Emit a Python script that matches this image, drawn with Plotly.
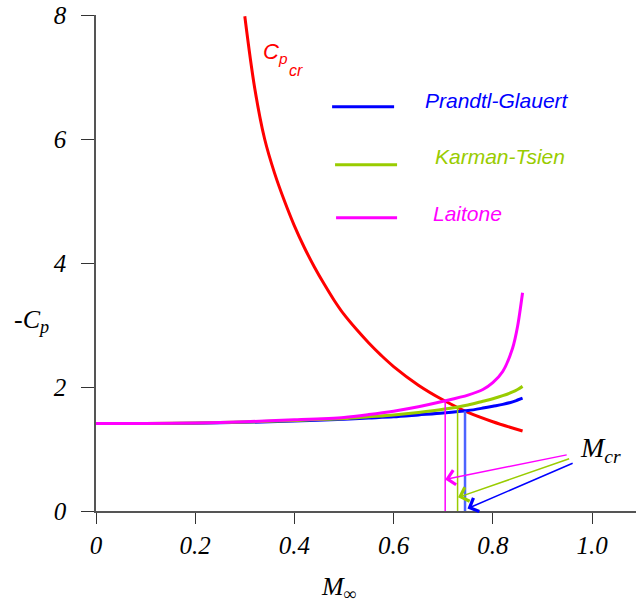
import plotly.graph_objects as go

# ---- data ----
mach = [0.0, 0.1, 0.2, 0.3, 0.4, 0.5, 0.55, 0.6, 0.65, 0.7, 0.75, 0.78, 0.8, 0.82, 0.84, 0.85, 0.86]
prandtl_glauert = [1.41, 1.411, 1.415, 1.43, 1.45, 1.48, 1.50, 1.52, 1.55, 1.58, 1.62, 1.66, 1.69, 1.72, 1.76, 1.79, 1.82]
karman_tsien = [1.41, 1.412, 1.42, 1.435, 1.46, 1.49, 1.52, 1.55, 1.59, 1.64, 1.71, 1.77, 1.81, 1.86, 1.92, 1.96, 2.01]
laitone = [1.41, 1.412, 1.42, 1.44, 1.47, 1.51, 1.555, 1.61, 1.68, 1.77, 1.87, 1.96, 2.07, 2.25, 2.63, 2.98, 3.52]

mach_cr_curve = [0.30, 0.32, 0.34, 0.36, 0.38, 0.40, 0.42, 0.44, 0.46, 0.48, 0.50, 0.525, 0.55, 0.575,
                 0.60, 0.65, 0.70, 0.75, 0.80, 0.86]
cp_critical = [7.98, 6.82, 6.00, 5.45, 5.00, 4.60, 4.25, 3.94, 3.66, 3.40, 3.17, 2.93, 2.71, 2.51,
               2.33, 2.03, 1.79, 1.59, 1.44, 1.29]

series_names = ["Prandtl-Glauert", "Karman-Tsien", "Laitone"]
series_colors = ["#0000ff", "#99cc00", "#ff00ff"]
mcr_values = [0.744, 0.729, 0.704]
cp_at_mcr = [1.61, 1.68, 1.78]
mcr_line_colors = ["#4d63ff", "#99cc00", "#ff00ff"]

x_ticks = [0, 0.2, 0.4, 0.6, 0.8, 1.0]
x_tick_text = ["0", "0.2", "0.4", "0.6", "0.8", "1.0"]
y_ticks = [0, 2, 4, 6, 8]
y_tick_text = ["0", "2", "4", "6", "8"]

SERIF = "Liberation Serif"
SANS = "Liberation Sans"

fig = go.Figure()

fig.add_trace(go.Scatter(x=mach_cr_curve, y=cp_critical, mode="lines",
                         line=dict(color="#ff0000", width=3, shape="spline", smoothing=1.0),
                         cliponaxis=False, showlegend=False))

for ys, c in zip([prandtl_glauert, karman_tsien, laitone], series_colors):
    fig.add_trace(go.Scatter(x=mach, y=ys, mode="lines",
                             line=dict(color=c, width=3, shape="spline", smoothing=0.8),
                             showlegend=False))

for m, cp, c, w in zip(mcr_values, cp_at_mcr, mcr_line_colors, [2.5, 1.5, 1.5]):
    fig.add_trace(go.Scatter(x=[m, m], y=[0, cp], mode="lines", line=dict(color=c, width=w),
                             showlegend=False))

# legend (manual)
legend_y_line = [6.52, 5.585, 4.73]
legend_x_line = [(0.476, 0.601), (0.482, 0.607), (0.484, 0.607)]
legend_text_x = [0.659, 0.679, 0.675]
legend_text_y = [6.62, 5.72, 4.80]
shapes = []
annotations = []
for name, c, ly, (x0, x1), tx, ty in zip(series_names, series_colors, legend_y_line,
                                          legend_x_line, legend_text_x, legend_text_y):
    shapes.append(dict(type="line", xref="x", yref="y", x0=x0, x1=x1, y0=ly, y1=ly,
                       line=dict(color=c, width=3)))
    annotations.append(dict(x=tx, y=ty, xref="x", yref="y", text=name, showarrow=False,
                            xanchor="left", yanchor="middle",
                            font=dict(family=SANS, size=21, color=c, style="italic")))

# arrows to Mcr
arrow_tail = [(0.964, 0.78), (0.957, 0.85), (0.952, 0.91)]
arrow_head = [(0.749, 0.04), (0.730, 0.22), (0.704, 0.51)]
for (tx, ty), (hx, hy), c in zip(arrow_tail, arrow_head, series_colors):
    annotations.append(dict(x=hx, y=hy, ax=tx, ay=ty, xref="x", yref="y", axref="x", ayref="y",
                            text="", showarrow=True, arrowhead=4, arrowsize=1.9,
                            arrowwidth=1.5, arrowcolor=c, standoff=0, startstandoff=0))

annotations.append(dict(x=0.972, y=1.0, xref="x", yref="y", text="M<sub>cr</sub>",
                        showarrow=False, xanchor="left", yanchor="middle",
                        font=dict(family=SERIF, size=28, color="black", style="italic")))
annotations.append(dict(x=0.333, y=7.38, xref="x", yref="y", text="C<sub>p</sub>",
                        showarrow=False, xanchor="left", yanchor="middle",
                        font=dict(family=SANS, size=22, color="#ff0000", style="italic")))
annotations.append(dict(x=0.385, y=7.10, xref="x", yref="y", text="cr",
                        showarrow=False, xanchor="left", yanchor="middle",
                        font=dict(family=SANS, size=16, color="#ff0000", style="italic")))
annotations.append(dict(x=-0.156, y=3.07, xref="paper", yref="y", text="-C<sub>p</sub>",
                        showarrow=False, xanchor="left", yanchor="middle",
                        font=dict(family=SERIF, size=26, color="black", style="italic")))
annotations.append(dict(x=0.49, y=-0.155, xref="x", yref="paper", text="M<sub>∞</sub>",
                        showarrow=False, xanchor="center", yanchor="middle",
                        font=dict(family=SERIF, size=26, color="black", style="italic")))

fig.update_layout(
    width=636, height=604,
    margin=dict(l=96, r=0, t=15, b=93),
    plot_bgcolor="white", paper_bgcolor="white",
    shapes=shapes, annotations=annotations,
    xaxis=dict(range=[0, 540 / 496], tickvals=x_ticks, ticktext=x_tick_text,
               showgrid=False, zeroline=False, showline=True, linecolor="#555555", linewidth=1.5,
               ticks="outside", ticklen=11, tickcolor="#333333", tickwidth=1,
               tickfont=dict(family=SERIF, size=25, color="black", style="italic")),
    yaxis=dict(range=[0, 8], tickvals=y_ticks, ticktext=y_tick_text,
               showgrid=False, zeroline=False, showline=True, linecolor="#555555", linewidth=1.5,
               ticks="outside", ticklen=13, tickcolor="#333333", tickwidth=1,
               ticklabelstandoff=10,
               tickfont=dict(family=SERIF, size=25, color="black", style="italic")),
)

fig.write_html("out.html")
